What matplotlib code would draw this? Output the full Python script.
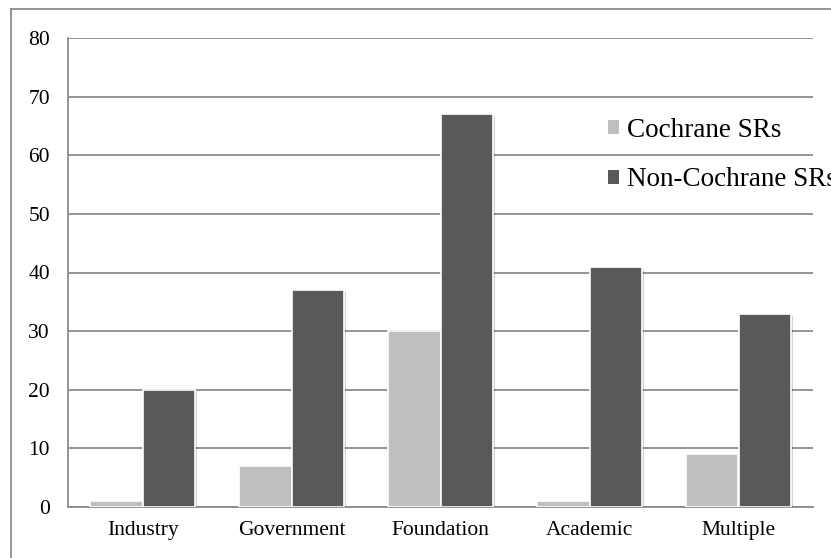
import matplotlib
matplotlib.use("Agg")
import matplotlib.pyplot as plt
import matplotlib.patheffects as pe
from matplotlib.lines import Line2D
import numpy as np

categories = ["Industry", "Government", "Foundation", "Academic", "Multiple"]
cochrane = [1, 7, 30, 1, 9]
non_cochrane = [20, 37, 67, 41, 33]
series_names = ["Cochrane SRs", "Non-Cochrane SRs"]
y_ticks = [0, 10, 20, 30, 40, 50, 60, 70, 80]

plt.rcParams["font.family"] = ["Liberation Serif", "DejaVu Serif"]

W, H = 831, 558
fig = plt.figure(figsize=(W / 100, H / 100), dpi=100)
ax = fig.add_axes([68 / W, 1 - 507 / H, (813 - 68) / W, (507 - 38) / H])

grid_c = "#8c8c8c"
light = "#bfbfbf"
dark = "#595959"

x = np.arange(len(categories))
bw = 0.355
shadow = [pe.SimplePatchShadow(offset=(1.5, -1.5), shadow_rgbFace="black", alpha=0.18), pe.Normal()]
b1 = ax.bar(x - bw / 2, cochrane, bw, color=light, edgecolor="white", linewidth=1.2, zorder=3,
            label=series_names[0])
b2 = ax.bar(x + bw / 2, non_cochrane, bw, color=dark, edgecolor="white", linewidth=1.2, zorder=3,
            label=series_names[1])
for b in list(b1) + list(b2):
    b.set_path_effects(shadow)

ax.set_xlim(-0.5, len(categories) - 0.5)
ax.set_ylim(0, 80)
ax.set_yticks(y_ticks)
ax.set_xticks(x)
ax.set_xticklabels(categories)
ax.tick_params(axis="both", length=0, labelsize=15.5, colors="black")
ax.tick_params(axis="y", pad=13)
ax.tick_params(axis="x", pad=10)
ax.yaxis.grid(True, color=grid_c, linewidth=1.3, zorder=0)
ax.set_axisbelow(True)
for s in ["top", "right"]:
    ax.spines[s].set_visible(False)
for s in ["left", "bottom"]:
    ax.spines[s].set_color(grid_c)
    ax.spines[s].set_linewidth(1.3)

leg = ax.legend(loc="upper left", bbox_to_anchor=(608 / W, 1 - 118 / H), bbox_transform=fig.transFigure,
                frameon=False, fontsize=19.5, handlelength=0.4, handleheight=0.4, handletextpad=0.3,
                labelspacing=0.9, borderaxespad=0, borderpad=0)
for h in leg.legend_handles:
    h.set_path_effects([])
    h.set_edgecolor("none")

# outer chart frame (top and left edges)
fig.add_artist(Line2D([11 / W, 1.0], [1 - 9 / H, 1 - 9 / H], transform=fig.transFigure, color=grid_c, linewidth=1.3))
fig.add_artist(Line2D([11 / W, 11 / W], [0, 1 - 9 / H], transform=fig.transFigure, color=grid_c, linewidth=1.3))

fig.savefig("out.png", dpi=100)
